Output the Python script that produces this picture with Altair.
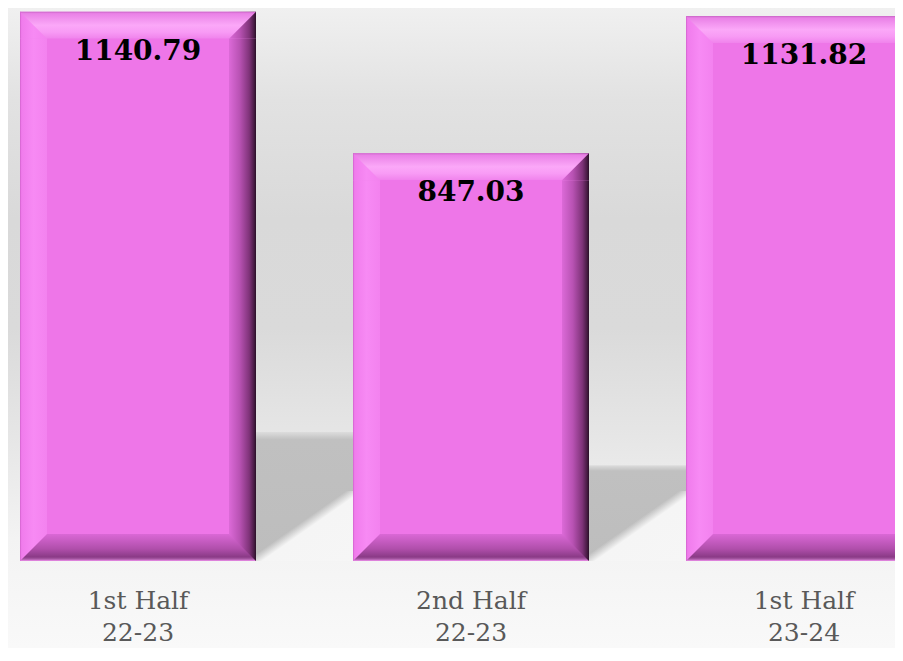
import altair as alt
import pandas as pd

halves = ["1st Half", "2nd Half", "1st Half"]
years = ["22-23", "22-23", "23-24"]
values = [1140.79, 847.03, 1131.82]

df = pd.DataFrame({"half": halves, "year": years, "value": values})
df["cat"] = df["half"] + "\n" + df["year"]
order = list(df["cat"])

W, H = 887, 640
FACE = "#ee76e8"
BEV = 27
BW = 236


def grad(stops, x1=0, y1=0, x2=1, y2=0):
    return alt.LinearGradient(
        gradient="linear",
        stops=[alt.GradientStop(color=c, offset=o) for o, c in stops],
        x1=x1, y1=y1, x2=x2, y2=y2,
    )


left_stops = [(0, "#d062cc"), (0.06, "#f07cec"), (0.5, "#f78af4"), (1, "#f382ef")]
right_stops = [(0, "#dc6ad8"), (0.4, "#b852b3"), (0.75, "#7f3379"), (0.92, "#4a1c46"), (1, "#2a1028")]
b = BEV / BW
outer_stops = (
    [(o * b, c) for o, c in left_stops]
    + [(b + 0.004, FACE), (1 - b - 0.004, FACE)]
    + [(1 - b + o * b, c) for o, c in right_stops]
)

x_enc = alt.X("cat:N", sort=order, axis=None,
              scale=alt.Scale(range=[-36.5, 962.5], paddingInner=0.29, paddingOuter=0.145))
y_scale = alt.Scale(domain=[-180.7, 1148.5], nice=False, zero=False)

bg_grad = grad([(0, "#f0f0f0"), (0.144, "#e2e2e2"), (0.33, "#d9d9d9"), (0.5, "#dadada"),
                (0.67, "#e6e6e6"), (0.83, "#f3f3f3"), (1, "#f9f9f9")], 0, 0, 0, 1)
background = alt.Chart(pd.DataFrame({"k": [0]})).mark_rect(fill=bg_grad).encode(
    x=alt.value(0), x2=alt.value(W), y=alt.value(0), y2=alt.value(H))

base = alt.Chart(df).encode(x=x_enc)

shadow = base.transform_calculate(shadow="datum.value * 0.235").mark_bar(
    width=100, xOffset=168, clip=True,
    fill=grad([(0, "#dddddd"), (0.06, "#c0c0c0"), (1, "#bdbdbd")], 0, 0, 0, 1),
).encode(y=alt.Y("shadow:Q", scale=y_scale, axis=None), y2=alt.datum(0))

floor = base.mark_bar(
    width=100, xOffset=168, y2Offset=-70, clip=True,
    fill=grad([(0, "rgba(246,246,246,0)"), (0.45, "rgba(246,246,246,0)"),
               (0.53, "#f5f5f5"), (1, "#f6f6f6")], 0, 0, 1, 1),
).encode(y=alt.Y(datum=0, scale=y_scale, axis=None), y2=alt.datum(0))

outer = base.mark_bar(width=BW, fill=grad(outer_stops), clip=True).encode(
    y=alt.Y("value:Q", scale=y_scale, axis=None), y2=alt.datum(0))

top_band = base.mark_bar(
    width=BW, y2Offset=BEV, clip=True,
    fill=grad([(0, "#c964c6"), (0.07, "#e981e6"), (0.5, "#fba8f8"),
               (0.75, "#f89bf5"), (1, "#f083ec")], 0, 0, 0, 1),
).encode(y=alt.Y("value:Q", scale=y_scale, axis=None), y2="value:Q")

bottom_band = base.mark_bar(
    width=BW, yOffset=-BEV, clip=True,
    fill=grad([(0, "#da68d6"), (0.55, "#b04fab"), (0.85, "#8a3a86"),
               (0.93, "#a85aa5"), (1, "#f090ee")], 0, 0, 0, 1),
).encode(y=alt.Y(datum=0, scale=y_scale, axis=None), y2=alt.datum(0))

size = BEV * BEV
off = BW / 2 - BEV / 2


def tri(path, stops, xo, yo, field):
    yv = alt.Y("value:Q", scale=y_scale, axis=None) if field else alt.Y(datum=0, scale=y_scale, axis=None)
    return base.mark_point(
        shape=path, size=size, filled=True, opacity=1, strokeWidth=0, clip=True,
        fill=grad(stops), xOffset=xo, yOffset=yo,
    ).encode(y=yv)


tl = tri("M-1,-1L-1,1L1,1Z", left_stops, -off, BEV / 2, True)
tr = tri("M1,-1L1,1L-1,1Z", right_stops, off, BEV / 2, True)
bl = tri("M-1,-1L1,-1L-1,1Z", left_stops, -off, -BEV / 2, False)
br = tri("M-1,-1L1,-1L1,1Z", right_stops, off, -BEV / 2, False)

face = base.mark_bar(width=BW - 2 * BEV, yOffset=BEV, y2Offset=-BEV, fill=FACE, clip=True).encode(
    y=alt.Y("value:Q", scale=y_scale, axis=None), y2=alt.datum(0))

labels = base.mark_text(
    font="DejaVu Serif", fontWeight="bold", fontSize=28, color="#000000",
    baseline="alphabetic", yOffset=48,
).encode(y=alt.Y("value:Q", scale=y_scale, axis=None),
         text=alt.Text("value:Q", format=".2f"))

xlabels = base.mark_text(
    font="DejaVu Serif", fontSize=25, color="#595959",
    baseline="top", yOffset=28, lineBreak="\n", lineHeight=32,
).encode(y=alt.Y(datum=0, scale=y_scale, axis=None), text="cat:N")

chart = alt.layer(
    background, shadow, floor, outer, top_band, bottom_band, tl, tr, bl, br, face, labels, xlabels
).properties(
    width=W, height=H, padding=0, autosize=alt.AutoSizeParams(type="none")
).configure_view(stroke=None)

chart.save("out.html", embed_options={"renderer": "svg", "actions": False})
